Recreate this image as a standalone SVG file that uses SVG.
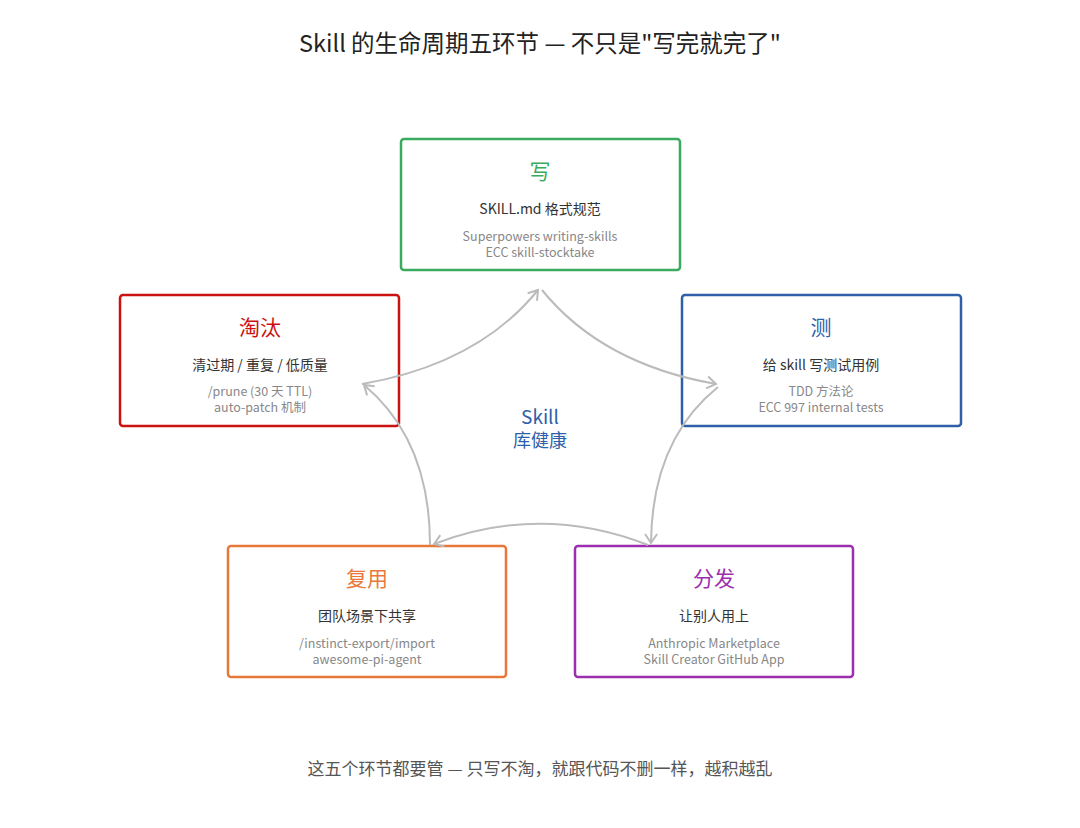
<svg xmlns="http://www.w3.org/2000/svg" width="1080" height="828" viewBox="0 0 1080 828">
<style>
text{font-family:"Noto Sans CJK SC","Noto Sans",sans-serif;text-anchor:middle}
.box{fill:#fff;stroke-width:2.5}
.h{font-size:21px}
.s{font-size:14px;fill:#333}
.g{font-size:12.5px;fill:#888}
.c{fill:none;stroke:#bbb;stroke-width:2;marker-end:url(#a)}
</style>
<defs><marker id="a" markerWidth="14" markerHeight="14" refX="11" refY="7" orient="auto" markerUnits="userSpaceOnUse"><path d="M2,1 L11,7 L2,13" fill="none" stroke="#bbb" stroke-width="2"/></marker></defs>
<rect width="1080" height="828" fill="#fff"/>
<text x="540" y="52" style="font-size:23.5px;fill:#222">Skill 的生命周期五环节 — 不只是"写完就完了"</text>
<g id="write"><rect class="box" x="401" y="139" width="279" height="131" rx="3" stroke="#3aaa5e"/><text class="h" x="540" y="179" fill="#3aaa5e">写</text><text class="s" x="540" y="214">SKILL.md 格式规范</text><text class="g" x="540" y="241">Superpowers writing-skills</text><text class="g" x="540" y="257">ECC skill-stocktake</text></g>
<g id="retire"><rect class="box" x="120" y="295" width="279" height="131" rx="3" stroke="#cc1111"/><text class="h" x="260" y="335" fill="#cc1111">淘汰</text><text class="s" x="260" y="370">清过期 / 重复 / 低质量</text><text class="g" x="260" y="396">/prune (30 天 TTL)</text><text class="g" x="260" y="412">auto-patch 机制</text></g>
<g id="test"><rect class="box" x="682" y="295" width="279" height="131" rx="3" stroke="#2e5fa8"/><text class="h" x="821" y="335" fill="#2e5fa8">测</text><text class="s" x="821" y="370">给 skill 写测试用例</text><text class="g" x="821" y="396">TDD 方法论</text><text class="g" x="821" y="412">ECC 997 internal tests</text></g>
<g id="reuse"><rect class="box" x="228" y="546" width="278" height="131" rx="3" stroke="#e8783a"/><text class="h" x="367" y="586" fill="#e8783a">复用</text><text class="s" x="367" y="621">团队场景下共享</text><text class="g" x="367" y="648">/instinct-export/import</text><text class="g" x="367" y="664">awesome-pi-agent</text></g>
<g id="dist"><rect class="box" x="575" y="546" width="278" height="131" rx="3" stroke="#9b2fae"/><text class="h" x="714" y="586" fill="#9b2fae">分发</text><text class="s" x="714" y="621">让别人用上</text><text class="g" x="714" y="648">Anthropic Marketplace</text><text class="g" x="714" y="664">Skill Creator GitHub App</text></g>
<g id="connectors">
<path class="c" d="M362,384 Q478,364 538,290"/>
<path class="c" d="M542,290 Q602,364 716,384"/>
<path class="c" d="M718,387 Q652,440 651,543"/>
<path class="c" d="M648,545 Q541,503 434,544"/>
<path class="c" d="M430,545 Q430,440 364,385"/>
</g>
<text x="540" y="424" style="font-size:19px;fill:#2e5fa8">Skill</text>
<text x="540" y="447" style="font-size:18px;fill:#2e5fa8">库健康</text>
<text x="540" y="775" style="font-size:17px;fill:#555">这五个环节都要管 — 只写不淘，就跟代码不删一样，越积越乱</text>
</svg>
